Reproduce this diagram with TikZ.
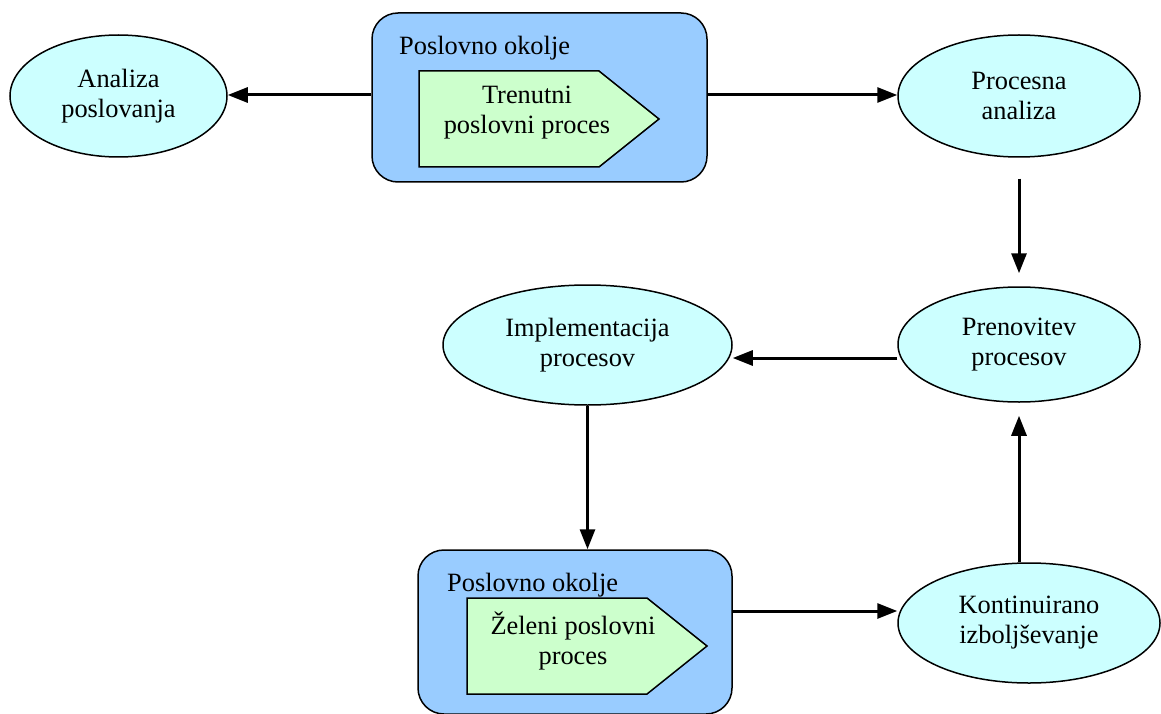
\documentclass[tikz,border=0pt]{standalone}
\usepackage{fontspec}
\setmainfont{Liberation Serif}
\usetikzlibrary{shapes.geometric,arrows.meta}
\definecolor{envblue}{HTML}{99CCFF}
\definecolor{procgreen}{HTML}{CCFFCC}
\definecolor{stepcyan}{HTML}{CCFFFF}
\tikzset{
  txt/.style={font=\fontsize{26.4}{30}\selectfont, align=center},
  phase/.style={ellipse, draw=black, line width=1.5pt, fill=stepcyan, inner sep=0pt, txt},
  envbox/.style={rectangle, rounded corners=26pt, draw=black, line width=1.5pt, fill=envblue, inner sep=0pt},
  procshape/.style={draw=black, line width=1.5pt, fill=procgreen},
  flow/.style={line width=3pt, -{Triangle[length=20pt,width=15pt]}}
}
\begin{document}
\begin{tikzpicture}[x=1pt,y=-1pt]
\useasboundingbox (0,0) rectangle (1161,714);

% business environment, current state
\node[envbox, minimum width=335pt, minimum height=169pt] (top) at (539.5,97.5) {};
\node[txt, anchor=west, inner sep=0pt] (topenv) at (399,48) {Poslovno okolje};
\draw[procshape] (419,71) -- (599,71) -- (659,119) -- (599,167) -- (419,167) -- cycle;
\node[txt, inner sep=0pt] (curproc) at (527,113) {Trenutni\\poslovni proces};

% business environment, target state
\node[envbox, minimum width=314pt, minimum height=164pt] (bot) at (575,632) {};
\node[txt, anchor=west, inner sep=0pt] (botenv) at (447,585) {Poslovno okolje};
\draw[procshape] (467,598) -- (647,598) -- (707,646) -- (647,694) -- (467,694) -- cycle;
\node[txt, inner sep=0pt] (newproc) at (573,641) {Želeni poslovni\\proces};

% phases
\node[phase, minimum width=217pt, minimum height=122pt] (ana) at (118.5,96) {Analiza\\poslovanja};
\node[phase, minimum width=242pt, minimum height=122pt] (proc) at (1019,96) {Procesna\\analiza};
\node[phase, minimum width=242pt, minimum height=115pt] (pren) at (1019,344.5) {Prenovitev\\procesov};
\node[phase, minimum width=289pt, minimum height=120pt] (impl) at (587.5,345) {Implementacija\\procesov};
\node[phase, minimum width=262pt, minimum height=120pt] (kont) at (1029,623) {Kontinuirano\\izboljševanje};

% flow between phases
\draw[flow] (top.west |- 0,95) -- (ana.east |- 0,95);
\draw[flow] (top.east |- 0,95) -- (proc.west |- 0,95);
\draw[flow, shorten <=21pt, shorten >=13pt] (proc.south) -- (pren.north);
\draw[flow] (pren.west |- 0,358) -- (impl.east |- 0,358);
\draw[flow] (impl.south) -- (impl.south |- bot.north);
\draw[flow] (bot.east |- 0,611) -- (kont.west |- 0,611);
\draw[flow, shorten >=13pt] (pren.south |- kont.north) -- (pren.south);
\end{tikzpicture}
\end{document}
